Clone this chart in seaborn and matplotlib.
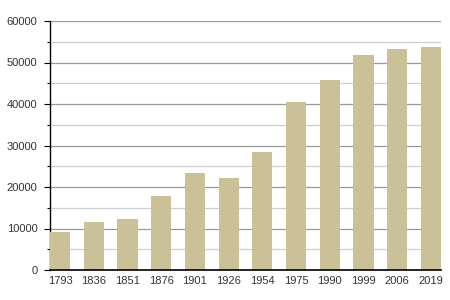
import matplotlib
matplotlib.use("Agg")
import matplotlib.pyplot as plt
import seaborn as sns
import pandas as pd
from matplotlib.ticker import MultipleLocator

years = ["1793", "1836", "1851", "1876", "1901", "1926", "1954", "1975", "1990", "1999", "2006", "2019"]
population = [9200, 11650, 12300, 17850, 23350, 22150, 28450, 40500, 45800, 51800, 53250, 53700]

df = pd.DataFrame({"year": years, "pop": population})

sns.set_style("white")
plt.rcParams["font.family"] = ["Liberation Sans", "DejaVu Sans"]

fig = plt.figure(figsize=(4.5, 3), dpi=100)
ax = fig.add_axes([0.111, 0.1, 0.869, 0.83])

sns.barplot(data=df, x="year", y="pop", color="#cbc198", saturation=1, width=0.6,
            linewidth=0, edgecolor="none", ax=ax, zorder=3)

ax.set_ylim(0, 60000)
ax.set_xlim(-0.3, 11.3)
ax.yaxis.set_major_locator(MultipleLocator(10000))
ax.yaxis.set_minor_locator(MultipleLocator(5000))
ax.grid(axis="y", which="major", color="#9a9a9a", linewidth=0.9, zorder=0)
ax.grid(axis="y", which="minor", color="#cfcfcf", linewidth=0.9, zorder=0)
ax.set_axisbelow(True)

for s in ["top", "right"]:
    ax.spines[s].set_visible(False)
ax.spines["left"].set_color("black")
ax.spines["bottom"].set_color("black")
ax.spines["left"].set_linewidth(1.0)
ax.spines["bottom"].set_linewidth(1.2)
ax.spines["bottom"].set_zorder(5)

ax.tick_params(axis="y", which="major", left=True, length=4, width=0.8, color="black", labelsize=8, pad=5, labelcolor="#333333")
ax.tick_params(axis="y", which="minor", left=True, length=2, width=0.8, color="black")
ax.tick_params(axis="x", bottom=False, labelsize=8, pad=1, labelcolor="#333333")
ax.set_xlabel("")
ax.set_ylabel("")

fig.savefig("out.png", dpi=100)
